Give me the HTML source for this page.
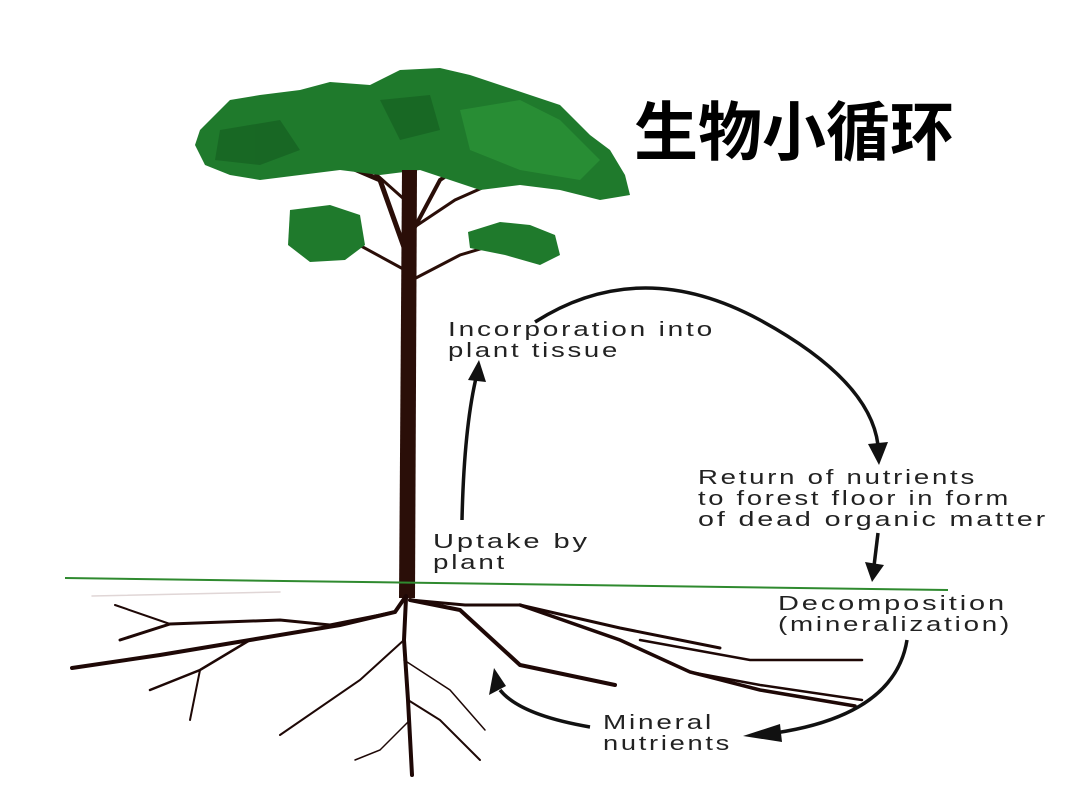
<!DOCTYPE html>
<html><head><meta charset="utf-8"><style>
body{margin:0;background:#fff;}
svg{display:block}
.t{font-family:"Liberation Sans",sans-serif;font-size:20px;fill:#222;letter-spacing:2px}
</style></head><body>
<svg width="1080" height="810" viewBox="0 0 1080 810">
<rect width="1080" height="810" fill="#fff"/>
<g stroke="#2a0e08" fill="none" stroke-linecap="round">
<path d="M410 300 L405 250 L380 180 L345 165" stroke-width="5"/>
<path d="M408 240 L440 180 L470 160" stroke-width="4"/>
<path d="M410 230 L455 200 L500 180" stroke-width="3"/>
<path d="M405 270 L350 240 L320 230" stroke-width="3"/>
<path d="M412 280 L460 255 L510 240" stroke-width="3"/>
<path d="M405 200 L360 160 L300 150" stroke-width="3"/>
</g>
<g fill="#1f7a2c">
<path d="M200 130 L230 100 L260 95 L300 90 L330 82 L370 85 L400 70 L440 68 L470 75 L500 85 L530 95 L560 105 L590 135 L610 150 L625 175 L630 195 L600 200 L560 190 L520 185 L480 190 L450 180 L420 170 L380 175 L340 170 L300 175 L260 180 L230 175 L205 165 L195 145 Z"/>
<path d="M290 210 L330 205 L360 215 L365 245 L345 260 L310 262 L288 245 Z"/>
<path d="M468 232 L500 222 L530 225 L555 235 L560 255 L540 265 L505 255 L470 248 Z"/>
</g>
<g fill="#2f9a3a" opacity="0.6">
<path d="M460 110 L520 100 L560 120 L600 160 L580 180 L520 170 L470 150 Z"/>
</g>
<g fill="#145c20" opacity="0.6">
<path d="M220 130 L280 120 L300 150 L260 165 L215 160 Z"/>
<path d="M380 100 L430 95 L440 130 L400 140 Z"/>
</g>
<path d="M402 170 L417 170 L415 598 L399 598 Z" fill="#2a0e08"/>
<path d="M65 578 L948 590" stroke="#2f8a2f" stroke-width="2"/>
<g stroke="#1e0806" fill="none" stroke-linecap="round">
<path d="M406 596 L395 612 L340 625 L250 640 L160 655 L72 668" stroke-width="4"/>
<path d="M395 612 L330 625 L280 620 L170 624 L120 640" stroke-width="3"/>
<path d="M170 624 L115 605" stroke-width="2"/>
<path d="M250 640 L200 670 L150 690" stroke-width="2.5"/>
<path d="M200 670 L190 720" stroke-width="2"/>
<path d="M406 598 L404 640 L408 700 L412 775" stroke-width="4"/>
<path d="M404 640 L360 680 L280 735" stroke-width="2"/>
<path d="M408 700 L440 720 L480 760" stroke-width="2"/>
<path d="M410 720 L380 750 L355 760" stroke-width="1.5"/>
<path d="M404 660 L450 690 L485 730" stroke-width="1.5"/>
<path d="M410 600 L465 605 L520 605 L620 628 L720 648" stroke-width="3"/>
<path d="M410 600 L460 610 L520 665 L615 685" stroke-width="4"/>
<path d="M520 605 L620 640 L690 672 L760 690 L855 706" stroke-width="3.5"/>
<path d="M690 672 L760 685 L862 700" stroke-width="2.5"/>
<path d="M640 640 L750 660 L862 660" stroke-width="2.5"/>
<path d="M92 596 L280 592" stroke="#e0d6d6" stroke-width="1.5"/>
</g>
<g stroke="#111" fill="none" stroke-width="3.5">
<path d="M535 322 Q640 255 760 320 Q870 380 878 445"/>
<path d="M462 520 Q464 430 476 378"/>
<path d="M878 533 L874 566"/>
<path d="M907 640 Q895 715 775 733"/>
<path d="M590 727 Q520 715 500 690"/>
</g>
<g fill="#111">
<path d="M868 444 L888 442 L879 465 Z"/>
<path d="M468 380 L486 382 L479 360 Z"/>
<path d="M865 562 L884 565 L872 582 Z"/>
<path d="M780 724 L782 742 L743 736 Z"/>
<path d="M489 695 L506 686 L494 668 Z"/>
</g>
<text class="t" x="448" y="336" textLength="267" lengthAdjust="spacingAndGlyphs">Incorporation into</text>
<text class="t" x="448" y="357" textLength="172" lengthAdjust="spacingAndGlyphs">plant tissue</text>
<text class="t" x="698" y="484" textLength="279" lengthAdjust="spacingAndGlyphs">Return of nutrients</text>
<text class="t" x="698" y="505" textLength="313" lengthAdjust="spacingAndGlyphs">to forest floor in form</text>
<text class="t" x="698" y="526" textLength="350" lengthAdjust="spacingAndGlyphs">of dead organic matter</text>
<text class="t" x="433" y="548" textLength="157" lengthAdjust="spacingAndGlyphs">Uptake by</text>
<text class="t" x="433" y="569" textLength="74" lengthAdjust="spacingAndGlyphs">plant</text>
<text class="t" x="778" y="610" textLength="229" lengthAdjust="spacingAndGlyphs">Decomposition</text>
<text class="t" x="778" y="631" textLength="234" lengthAdjust="spacingAndGlyphs">(mineralization)</text>
<text class="t" x="603" y="729" textLength="111" lengthAdjust="spacingAndGlyphs">Mineral</text>
<text class="t" x="603" y="750" textLength="129" lengthAdjust="spacingAndGlyphs">nutrients</text>
<text x="634" y="155" style="font-family:'Liberation Sans','Noto Sans CJK SC',sans-serif;font-size:64px;font-weight:bold;fill:#000">生物小循环</text>
</svg>
</body></html>
